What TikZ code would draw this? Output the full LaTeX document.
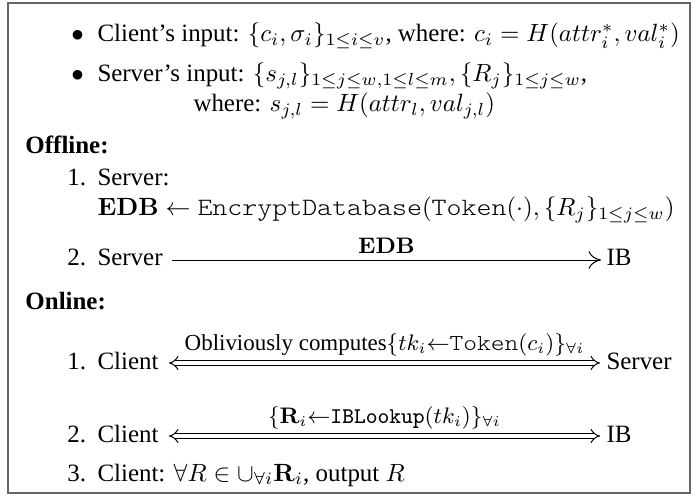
\documentclass[tikz,border=0pt]{standalone}
\usepackage{amsmath,amssymb}
\usepackage[no-math]{fontspec}
\setmainfont{Liberation Serif}
\newfontfamily\courier{lmmonolt10-regular}[Extension=.otf,FakeStretch=1.143]
\usetikzlibrary{arrows.meta}
\newcommand{\cw}[1]{\text{\courier #1}}
\begin{document}
\begin{tikzpicture}[x=0.401pt,y=-0.401pt,
  txt/.style={anchor=base west,inner sep=0pt,font=\fontsize{10}{12}\selectfont},
  frame/.style={draw=black!60,line width=1.1},
  single/.style={line width=0.4pt,-{Computer Modern Rightarrow[length=5pt,width=7pt]}},
  dbl/.style={double,double distance=1.6pt,line width=0.4pt,{Implies}-{Implies}},
  lbl/.style={above=2.5pt,midway,inner sep=0pt,font=\fontsize{9.2}{11}\selectfont}]
\useasboundingbox (0,0) rectangle (696,497);
\draw[frame] (8,3) rectangle (690,493);
% inputs
\node[txt] (b1) at (71,42) {$\bullet$};
\node[txt] (l1) at (97,42) {Client's input: $\{c_i,\sigma_i\}_{1\le i\le v}$, where: $c_i=H(attr_i^*,val_i^*)$};
\node[txt] (b2) at (71,82) {$\bullet$};
\node[txt] (l2) at (97,82) {Server's input: $\{s_{j,l}\}_{1\le j\le w,1\le l\le m},\{R_j\}_{1\le j\le w}$,};
\node[txt] (l3) at (193,112) {where: $s_{j,l}=H(attr_l,val_{j,l})$};
% offline
\node[txt] (off) at (25,154) {\textbf{Offline:}};
\node[txt] (o1n) at (67,186) {1.};
\node[txt] (o1) at (97,186) {Server:};
\node[txt] (edb) at (97,216) {$\mathbf{EDB}\leftarrow\cw{EncryptDatabase}(\cw{Token}(\cdot),\{R_j\}_{1\le j\le w})$};
\node[txt] (o2n) at (67,266) {2.};
\node[txt] (o2s) at (97,266) {Server};
\node[txt] (o2ib) at (606,266) {IB};
\draw[single] ([shift={(9,-6)}]o2s.base east) -- ([shift={(-5,-6)}]o2ib.base west)
  node[lbl] {$\mathbf{EDB}$};
% online
\node[txt] (on) at (25,309) {\textbf{Online:}};
\node[txt] (n1n) at (67,369) {1.};
\node[txt] (n1c) at (97,369) {Client};
\node[txt] (n1s) at (606,369) {Server};
\draw[dbl] ([shift={(10,-6)}]n1c.base east) -- ([shift={(-6,-6)}]n1s.base west)
  node[lbl] {Obliviously computes$\{tk_i{\leftarrow}\cw{Token}(c_i)\}_{\forall i}$};
\node[txt] (n2n) at (67,442) {2.};
\node[txt] (n2c) at (97,442) {Client};
\node[txt] (n2ib) at (606,442) {IB};
\draw[dbl] ([shift={(10,-6)}]n2c.base east) -- ([shift={(-6,-6)}]n2ib.base west)
  node[lbl] {$\{\mathbf{R}_i{\leftarrow}\mathtt{IBLookup}(tk_i)\}_{\forall i}$};
\node[txt] (n3n) at (67,481) {3.};
\node[txt] (n3) at (97,481) {Client: $\forall R\in\cup_{\forall i}\mathbf{R}_i$, output $R$};
\end{tikzpicture}
\end{document}
